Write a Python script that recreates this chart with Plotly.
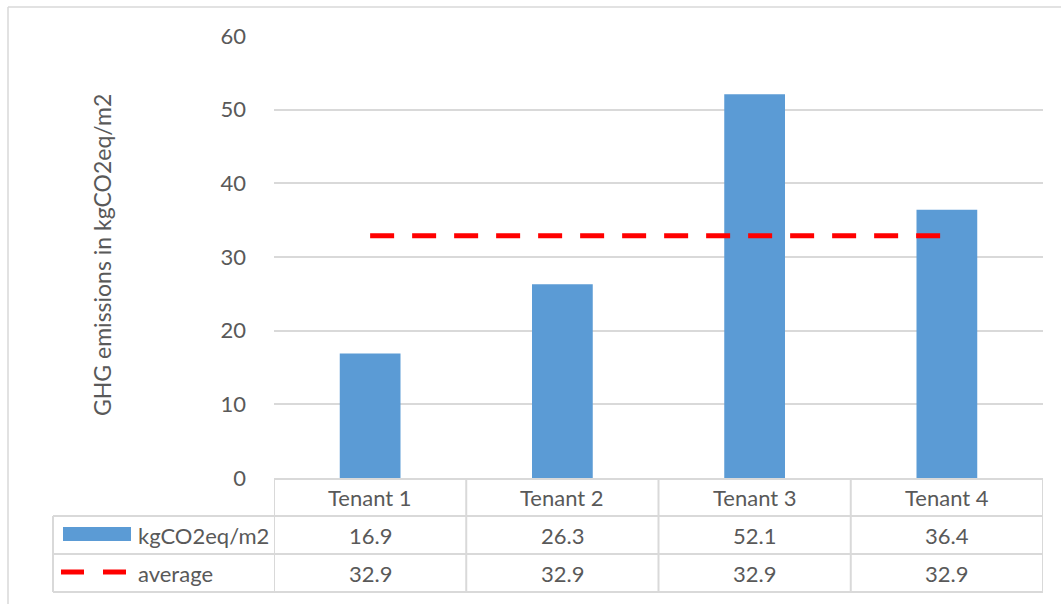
import plotly.graph_objects as go

# Chart data
tenants = ["Tenant 1", "Tenant 2", "Tenant 3", "Tenant 4"]
emissions = [16.9, 26.3, 52.1, 36.4]
average = [32.9, 32.9, 32.9, 32.9]
series_names = ["kgCO2eq/m2", "average"]
y_ticks = [0, 10, 20, 30, 40, 50, 60]
y_title = "GHG emissions in kgCO2eq/m2"

W, H = 1061, 604
FONT = "Lato"
TXT = "#595959"
GRID = "#d9d9d9"
BAR = "#5B9BD5"
FS = 22

# Pixel layout of the plot area and the data table beneath it
PX_L, PX_R = 274, 1043
PY_T, PY_B = 36, 478
TABLE_L = 53
ROW_Y = [479, 516, 554, 592]


def px(x):
    return x / W


def py(y):
    return 1 - y / H


fig = go.Figure()
fig.add_trace(go.Bar(
    x=tenants, y=emissions, name=series_names[0],
    marker=dict(color=BAR, line=dict(width=0)), width=0.316,
))
fig.add_trace(go.Scatter(
    x=tenants, y=average, name=series_names[1], mode="lines",
    line=dict(color="#FF0000", width=5, dash="24px,18px"),
))

shapes = []
line_style = dict(color=GRID, width=2)

# Outer chart frame (top and left edges)
shapes.append(dict(type="line", xref="paper", yref="paper",
                   x0=px(8), x1=px(W + 5), y0=py(7), y1=py(7),
                   line=dict(color=GRID, width=1.5)))
shapes.append(dict(type="line", xref="paper", yref="paper",
                   x0=px(8), x1=px(8), y0=py(7), y1=py(H + 5),
                   line=dict(color=GRID, width=1.5)))

# Table horizontal rules
shapes.append(dict(type="line", xref="paper", yref="paper",
                   x0=px(PX_L), x1=px(PX_R), y0=py(ROW_Y[0]), y1=py(ROW_Y[0]),
                   line=line_style))
for ry in ROW_Y[1:]:
    shapes.append(dict(type="line", xref="paper", yref="paper",
                       x0=px(TABLE_L), x1=px(PX_R), y0=py(ry), y1=py(ry),
                       line=line_style))
# Table vertical rules
shapes.append(dict(type="line", xref="paper", yref="paper",
                   x0=px(TABLE_L), x1=px(TABLE_L), y0=py(ROW_Y[1]), y1=py(ROW_Y[3]),
                   line=line_style))
for k in range(len(tenants) + 1):
    xb = k - 0.5
    shapes.append(dict(type="line", xref="x", yref="paper",
                       x0=xb, x1=xb, y0=py(ROW_Y[0]), y1=py(ROW_Y[3]),
                       line=line_style))

# Legend keys inside the table
shapes.append(dict(type="rect", xref="paper", yref="paper",
                   x0=px(63), x1=px(131), y0=py(527), y1=py(541),
                   fillcolor=BAR, line=dict(width=0)))
for x0, x1 in [(61, 84), (103, 126)]:
    shapes.append(dict(type="line", xref="paper", yref="paper",
                       x0=px(x0), x1=px(x1), y0=py(572), y1=py(572),
                       line=dict(color="#FF0000", width=5)))

annotations = []
font = dict(family=FONT, size=FS, color=TXT)
mid = [(ROW_Y[i] + ROW_Y[i + 1]) / 2 for i in range(3)]
cell = dict(xref="x", yref="paper", xanchor="center", yanchor="middle",
            showarrow=False, font=font)
for i, t in enumerate(tenants):
    annotations.append(dict(x=t, y=py(mid[0]), text=t, **cell))
    annotations.append(dict(x=t, y=py(mid[1]), text=f"{emissions[i]:.1f}", **cell))
    annotations.append(dict(x=t, y=py(mid[2]), text=f"{average[i]:.1f}", **cell))
key = dict(xref="paper", yref="paper", xanchor="left", yanchor="middle",
           showarrow=False, font=font)
annotations.append(dict(x=px(136), y=py(mid[1]), text=series_names[0], **key))
annotations.append(dict(x=px(136), y=py(mid[2]), text=series_names[1], **key))
# Vertical axis title
annotations.append(dict(x=px(102), y=py(255), xref="paper", yref="paper",
                        xanchor="center", yanchor="middle",
                        text=y_title, textangle=-90, showarrow=False,
                        font=dict(family=FONT, size=23, color=TXT)))

fig.update_layout(
    width=W, height=H,
    margin=dict(l=0, r=0, t=0, b=0, autoexpand=False),
    paper_bgcolor="white", plot_bgcolor="white",
    showlegend=False,
    shapes=shapes,
    annotations=annotations,
    xaxis=dict(domain=[px(PX_L), px(PX_R)], range=[-0.5, 3.5],
               showticklabels=False, showgrid=False, zeroline=False,
               showline=False, ticks="", automargin=False),
    yaxis=dict(domain=[py(PY_B), py(PY_T)], range=[0, 60],
               tickvals=y_ticks, tickfont=font, ticks="",
               ticklabelstandoff=27, automargin=False,
               showgrid=True, gridcolor=GRID, gridwidth=1.5,
               zeroline=False, showline=False),
)

fig.write_html("out.html")
